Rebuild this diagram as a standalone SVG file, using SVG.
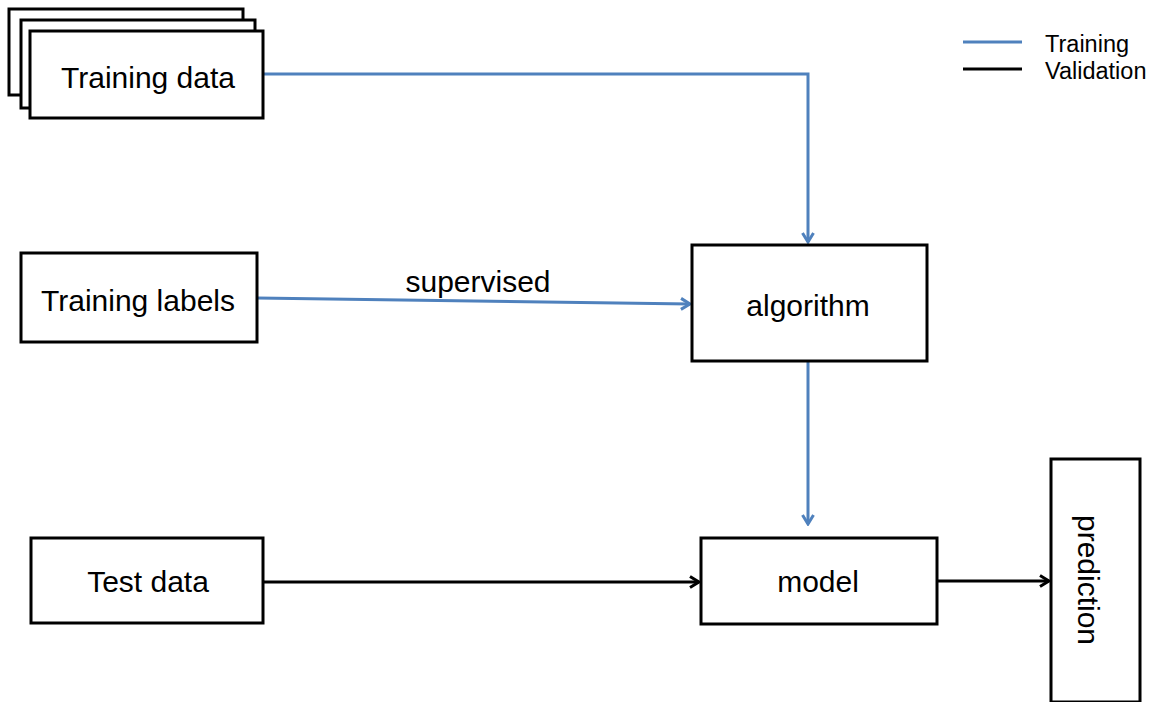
<svg xmlns="http://www.w3.org/2000/svg" width="1152" height="702" viewBox="0 0 1152 702">
<defs>
<style>
.box{fill:#fff;stroke:#000;stroke-width:3}
.t{font-family:"Liberation Sans",Arial,sans-serif;font-size:30px;fill:#000;text-anchor:middle;dominant-baseline:central}
.lg{font-family:"Liberation Sans",Arial,sans-serif;font-size:23.5px;fill:#000}
.blue{fill:none;stroke:#4F81BD;stroke-width:3}
.black{fill:none;stroke:#000;stroke-width:3}
</style>
<marker id="ab" viewBox="0 0 14 14" refX="12" refY="7" markerWidth="14" markerHeight="14" markerUnits="userSpaceOnUse" orient="auto">
<path d="M3,1.5 L12,7 L3,12.5" fill="none" stroke="#4F81BD" stroke-width="3"/>
</marker>
<marker id="ak" viewBox="0 0 14 14" refX="12" refY="7" markerWidth="14" markerHeight="14" markerUnits="userSpaceOnUse" orient="auto">
<path d="M3,1.5 L12,7 L3,12.5" fill="none" stroke="#000" stroke-width="3"/>
</marker>
</defs>
<rect width="1152" height="702" fill="#fff"/>
<g id="connectors">
<path class="blue" d="M264,74 H808 V242" marker-end="url(#ab)"/>
<path class="blue" d="M257,298 L690,304" marker-end="url(#ab)"/>
<path class="blue" d="M808,361 V524" marker-end="url(#ab)"/>
<path class="black" d="M263,582 H699" marker-end="url(#ak)"/>
<path class="black" d="M937,581 H1049" marker-end="url(#ak)"/>
<text class="t" x="478" y="281">supervised</text>
</g>
<g id="training-data">
<rect class="box" x="9" y="9" width="234" height="86"/>
<rect class="box" x="21" y="20" width="234" height="88"/>
<rect class="box" x="30" y="31" width="233" height="87"/>
<text class="t" x="148" y="77">Training data</text>
</g>
<g id="training-labels">
<rect class="box" x="21" y="253" width="236" height="89"/>
<text class="t" x="138" y="300">Training labels</text>
</g>
<g id="algorithm">
<rect class="box" x="692" y="245" width="235" height="116"/>
<text class="t" x="808" y="305">algorithm</text>
</g>
<g id="test-data">
<rect class="box" x="31" y="538" width="232" height="85"/>
<text class="t" x="148" y="581">Test data</text>
</g>
<g id="model">
<rect class="box" x="701" y="538" width="236" height="86"/>
<text class="t" x="818" y="581">model</text>
</g>
<g id="prediction">
<rect class="box" x="1051" y="459" width="89" height="243"/>
<text class="t" x="1088" y="580" transform="rotate(90 1088 580)">prediction</text>
</g>
<g id="legend">
<line class="blue" x1="963" y1="42" x2="1022" y2="42"/>
<line class="black" x1="963" y1="69" x2="1022" y2="69"/>
<text class="lg" x="1045" y="52">Training</text>
<text class="lg" x="1045" y="79">Validation</text>
</g>
</svg>
